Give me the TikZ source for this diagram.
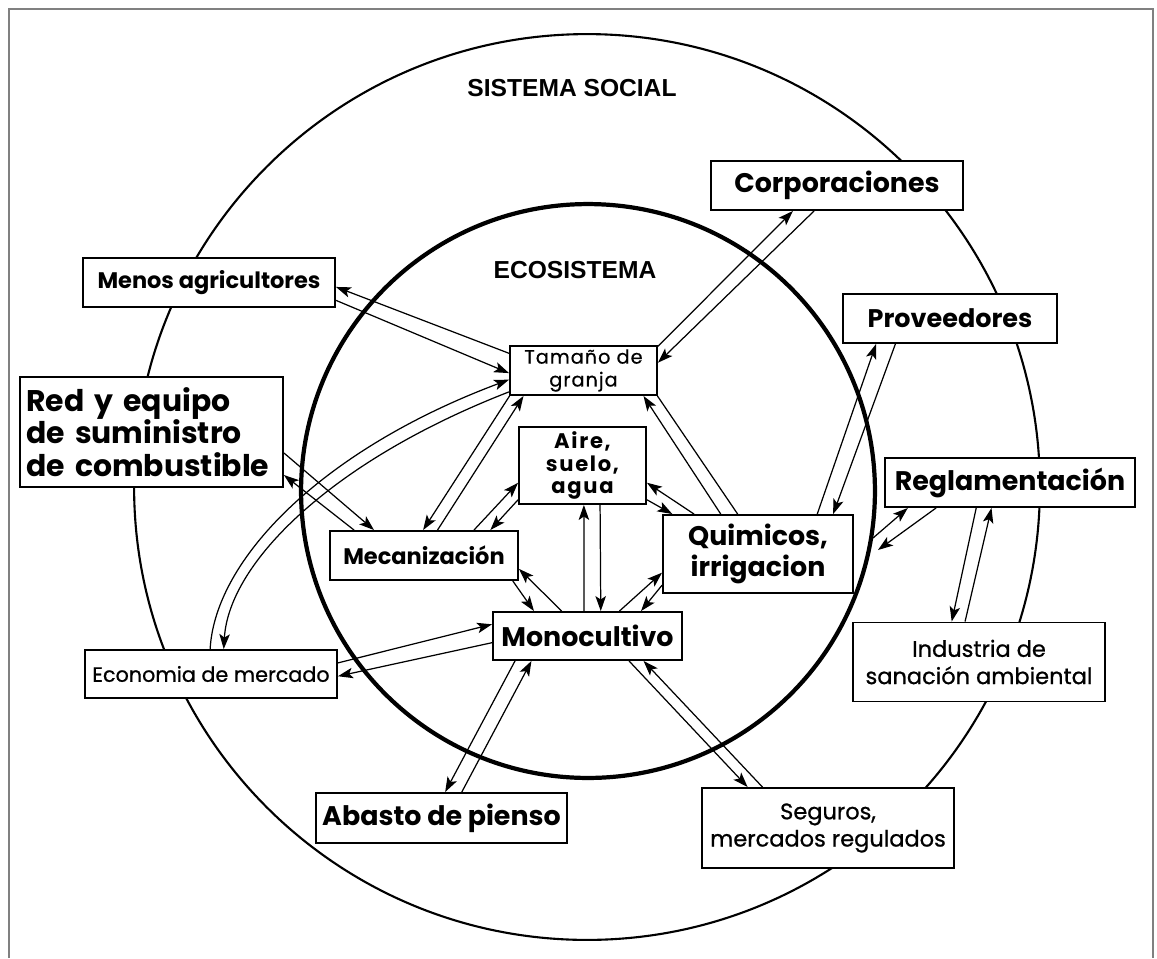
\documentclass[tikz,border=0pt]{standalone}
\usepackage{fontspec}
\setmainfont{Poppins}
\newfontfamily\titlefont{Liberation Sans}
\usetikzlibrary{arrows.meta}

\begin{document}
\begin{tikzpicture}[
  x=0.02cm, y=-0.02cm,
  box/.style={rectangle,draw=black,line width=1.1pt,fill=white,align=center,inner sep=0pt},
  big/.style={font=\fontsize{15.3}{18}\selectfont\bfseries},
  mid/.style={font=\fontsize{12.8}{15.5}\selectfont\addfontfeatures{FakeBold=0.8}},
  midb/.style={font=\fontsize{12.8}{15}\selectfont\bfseries},
  title/.style={font=\titlefont\bfseries\fontsize{14}{16}\selectfont},
  arr/.style={-{Stealth[length=3mm,width=2.1mm,inset=0.7mm]},line width=0.7pt},
  ln/.style={line width=0.7pt}
]
\useasboundingbox (0,0) rectangle (1157,958);
% frame and the two systems
\draw[gray,line width=1.2pt] (9,958) -- (9,9) -- (1153,9) -- (1153,958);
\draw[line width=1.2pt] (587,487) circle[radius=9.06cm];
\draw[line width=2.4pt] (588,491) circle[radius=5.74cm];
\node[title] (soc) at (572,88) {SISTEMA SOCIAL};
\node[title] (eco) at (575,270) {ECOSISTEMA};

% outer boxes
\node[box,big,minimum width=5.04cm,minimum height=0.98cm] (corp) at (837,185.5) {Corporaciones};
\node[box,midb,minimum width=5.04cm,minimum height=0.98cm] (menos) at (209,282.5) {Menos agricultores};
\node[box,big,font=\fontsize{14.5}{18}\selectfont\bfseries,minimum width=4.28cm,minimum height=0.98cm] (prov) at (950,318.5) {Proveedores};
\node[box,font=\fontsize{17}{18.5}\selectfont\bfseries,align=left,text width=5.0cm,minimum width=5.26cm,minimum height=2.2cm] (red) at (151.5,432) {Red y equipo\\de suministro\\de combustible};
\node[box,big,minimum width=5.0cm,minimum height=0.98cm] (regl) at (1010,482.5) {Reglamentación};
\node[box,mid,minimum width=5.04cm,minimum height=1.58cm] (ind) at (979,662) {Industria de\\sanación ambiental};
\node[box,mid,font=\fontsize{11.8}{15}\selectfont\addfontfeatures{FakeBold=0.8},minimum width=5.04cm,minimum height=0.96cm] (econ) at (211,674) {Economia de mercado};
\node[box,big,minimum width=5.02cm,minimum height=1.0cm] (abasto) at (441.5,818) {Abasto de pienso};
\node[box,mid,minimum width=5.04cm,minimum height=1.6cm] (seg) at (828,828) {Seguros,\\mercados regulados};

% inner boxes
\node[box,font=\fontsize{11}{13}\selectfont\addfontfeatures{LetterSpace=5,FakeBold=0.6},minimum width=2.94cm,minimum height=0.98cm] (tam) at (583.5,370.5) {Tamaño de\\granja};
\node[box,font=\fontsize{12}{13}\selectfont\bfseries\addfontfeatures{LetterSpace=8},minimum width=2.54cm,minimum height=1.54cm] (aire) at (582.5,465.5) {Aire,\\suelo,\\agua};
\node[box,font=\fontsize{12.8}{15}\selectfont\bfseries,minimum width=3.76cm,minimum height=0.98cm] (mec) at (424,555.5) {Mecanización};
\node[box,big,minimum width=3.8cm,minimum height=1.56cm] (quim) at (758,554) {Quimicos,\\irrigacion};
\node[box,big,minimum width=3.78cm,minimum height=0.96cm] (mono) at (587.5,636) {Monocultivo};

% connectors
\draw[arr] (tam.167) -- (menos.-2);
\draw[arr] (menos.-8) -- (tam.182);
\draw[arr] (tam.18) -- (corp.210);
\draw[arr] (corp.228) -- (tam.6);
\draw[arr] (econ.92) .. controls +(5,-90) and +(-187,70) .. (tam.187);
\draw[arr] (tam.196) .. controls +(-180,70) and +(5,-85) .. (econ.63);
\draw[arr] (red.-9) -- (mec.153);
\draw[arr] (mec.160) -- (red.-18);
\draw[arr] (tam.199) -- (mec.92);
\draw[arr] (mec.62) -- (tam.203);
\draw[arr] (mec.27) -- (aire.195);
\draw[arr] (aire.208) -- (mec.21);
\draw[arr] (mono.98) -- (aire.272);
\draw[arr] (aire.-66) -- (mono.62);
\draw[arr] (quim.148) -- (aire.-15);
\draw[arr] (aire.-28) -- (quim.155);
\draw[arr] (quim.133) -- (tam.-23);
\draw[ln] (tam.-19) -- (quim.117);
\draw[arr] (quim.34) -- (prov.199);
\draw[arr] (prov.205) -- (quim.28);
\coordinate (qr1) at (873,538);
\coordinate (qr2) at (878,550);
\draw[arr] (qr1) -- (regl.194);
\draw[arr] (regl.199) -- (qr2);
\draw[arr] (regl.217) -- (ind.124);
\draw[arr] (ind.109) -- (regl.234);
\draw[arr] (mec.-16) -- (mono.155);
\draw[arr] (mono.136) -- (mec.-8);
\draw[arr] (mono.38) -- (quim.191);
\draw[arr] (quim.198) -- (mono.25);
\draw[arr] (econ.5) -- (mono.173);
\draw[arr] (mono.184) -- (econ.-1);
\draw[arr] (mono.199) -- (abasto.82);
\draw[arr] (abasto.52) -- (mono.204);
\draw[arr] (mono.-31) -- (seg.153);
\draw[arr] (seg.148) -- (mono.-24);
\end{tikzpicture}
\end{document}
